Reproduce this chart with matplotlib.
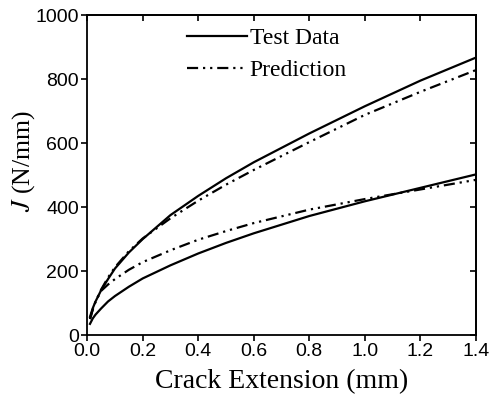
import numpy as np
import matplotlib
matplotlib.use('Agg')
import matplotlib.pyplot as plt

plt.rcParams['mathtext.fontset'] = 'stix'

# crack extension (mm)
crack = [0.01, 0.02, 0.03, 0.05, 0.075, 0.1, 0.15, 0.2, 0.3, 0.4, 0.5,
         0.6, 0.8, 1.0, 1.2, 1.4]

# J (N/mm)
test_upper = [57, 84, 105, 140, 175, 208, 258, 300, 375, 435, 490,
              540, 630, 715, 795, 867]
pred_upper = [50, 80, 104, 142, 180, 212, 262, 302, 365, 420, 470,
              516, 603, 688, 760, 828]
test_lower = [35, 52, 64, 83, 105, 122, 151, 177, 218, 255, 288,
              318, 372, 418, 460, 502]
pred_lower = [50, 80, 105, 138, 158, 175, 204, 228, 265, 298, 325,
              350, 392, 425, 455, 485]

dashdotdot = (0, (5, 2.2, 1, 2.2, 1, 2.2))

fig = plt.figure(figsize=(4.9, 3.97), dpi=100)
ax = fig.add_axes([0.178, 0.156, 0.793, 0.806])

ax.plot(crack, test_upper, color='black', lw=1.6, label='Test Data')
ax.plot(crack, pred_upper, color='black', lw=1.6, ls=dashdotdot, label='Prediction')
ax.plot(crack, test_lower, color='black', lw=1.6)
ax.plot(crack, pred_lower, color='black', lw=1.6, ls=dashdotdot)

xt = np.arange(0, 1.41, 0.2)
yt = np.arange(0, 1001, 200)
ax.set_xlim(0, 1.4)
ax.set_ylim(0, 1000)
ax.set_xticks(xt)
ax.set_yticks(yt)
ax.set_xticklabels(['%.1f' % v for v in xt], family='Liberation Sans', fontsize=14)
ax.set_yticklabels(['%d' % v for v in yt], family='Liberation Sans', fontsize=14)
ax.tick_params(direction='out', length=4, width=1.2, pad=2)

# mirrored ticks on top/right pointing inward
top = ax.secondary_xaxis('top')
top.set_xticks(xt)
top.tick_params(direction='in', length=4, width=1.2, labeltop=False)
right = ax.secondary_yaxis('right')
right.set_yticks(yt)
right.tick_params(direction='in', length=4, width=1.2, labelright=False)

for s in ax.spines.values():
    s.set_linewidth(1.3)
top.spines['top'].set_linewidth(1.3)
right.spines['right'].set_linewidth(1.3)

ax.set_xlabel('Crack Extension (mm)', family='Liberation Serif', fontsize=20, labelpad=6)
ax.set_ylabel(r'$J$ (N/mm)', family='Liberation Serif', fontsize=18.5)
ax.yaxis.set_label_coords(-0.128, 0.544)

ax.legend(loc='upper left', bbox_to_anchor=(0.257, 0.962), frameon=False,
          prop={'family': 'Liberation Serif', 'size': 17},
          borderaxespad=0, borderpad=0,
          handlelength=2.55, handletextpad=0.1, labelspacing=0.45)

fig.savefig('out.png', dpi=100)
